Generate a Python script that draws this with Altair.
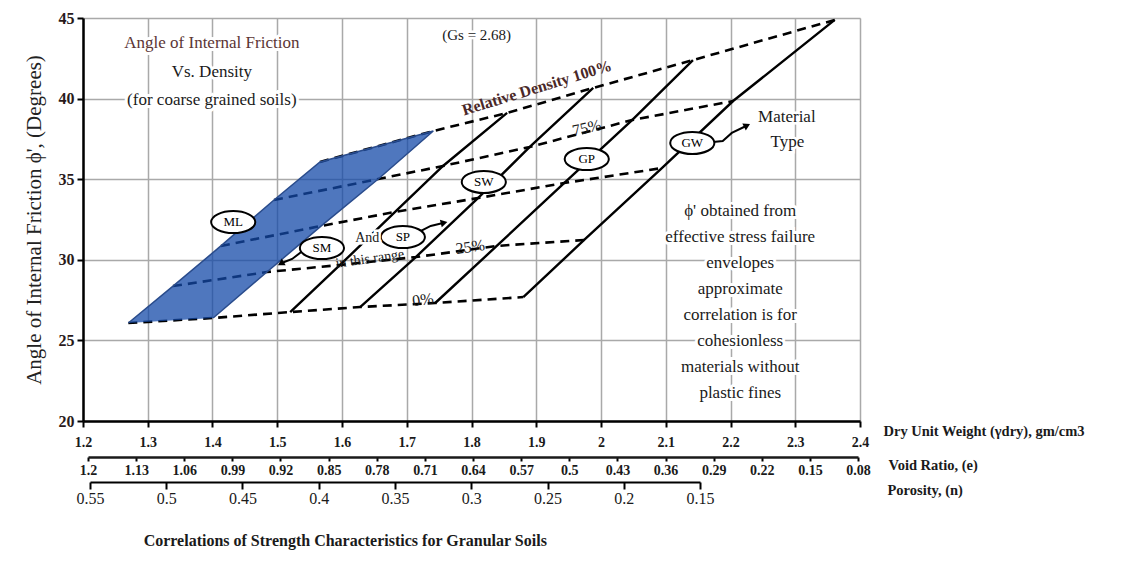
import altair as alt
import pandas as pd

# ---------------- data ----------------
boundaries = ["ML", "SM", "SP", "SW", "GP", "GW"]
rel_density = ["0%", "25%", "50%", "75%", "100%"]

# dry unit weight (gm/cm3) and friction angle (deg) at each material boundary
dry_0 = [1.270, 1.401, 1.520, 1.628, 1.744, 1.880]
phi_0 = [26.08, 26.39, 26.76, 27.07, 27.32, 27.69]
dry_25 = [1.339, 1.484, 1.597, 1.714, 1.839, 1.974]
phi_25 = [28.37, 29.24, 29.68, 30.17, 30.86, 31.23]
dry_50 = [1.413, 1.568, 1.682, 1.810, 1.943, 2.094]
phi_50 = [30.86, 32.10, 32.97, 33.83, 34.76, 35.69]
dry_75 = [1.495, 1.656, 1.756, 1.890, 2.048, 2.204]
phi_75 = [33.71, 35.01, 35.82, 37.00, 38.67, 39.85]
dry_100 = [1.566, 1.741, 1.855, 1.988, 2.142, 2.361]
phi_100 = [36.07, 37.99, 39.11, 40.66, 42.39, 44.88]

dry_ticks = [1.2, 1.3, 1.4, 1.5, 1.6, 1.7, 1.8, 1.9, 2.0, 2.1, 2.2, 2.3, 2.4]
phi_ticks = [20, 25, 30, 35, 40, 45]
void_ticks = [1.2, 1.13, 1.06, 0.99, 0.92, 0.85, 0.78, 0.71, 0.64, 0.57, 0.5,
              0.43, 0.36, 0.29, 0.22, 0.15, 0.08]
poro_ticks = [0.55, 0.5, 0.45, 0.4, 0.35, 0.3, 0.25, 0.2, 0.15]

# material-type labels (ellipses)
mat_names = ["ML", "SM", "SP", "SW", "GP", "GW"]
mat_dry = [1.432, 1.569, 1.694, 1.819, 1.978, 2.141]
mat_phi = [32.34, 30.73, 31.41, 34.83, 36.25, 37.25]

# arrows
arrow_id = ["SM", "SM", "SM", "SP", "SP", "SP", "GW", "GW", "GW", "GW"]
arrow_dry = [1.537, 1.523, 1.507, 1.722, 1.737, 1.756, 2.173, 2.188, 2.202, 2.224]
arrow_phi = [30.48, 30.05, 29.80, 31.79, 32.10, 32.28, 37.31, 37.37, 37.87, 38.30]
head_dry = [1.507, 1.756, 2.224]
head_phi = [29.80, 32.28, 38.30]
head_ang = [240, 76, 63]

# annotation texts
block_lines = ["Angle of Internal Friction", "Vs. Density", "(for coarse grained soils)"]
block_dry = [1.399, 1.399, 1.399]
block_phi = [43.45, 41.65, 39.91]
block_col = ["#5b3535", "#1a1a1a", "#1a1a1a"]

note_lines = ["\u03d5' obtained from", "effective stress failure", "envelopes", "approximate",
              "correlation is for", "cohesionless", "materials without", "plastic fines"]
note_phi = [33.03, 31.42, 29.80, 28.19, 26.58, 24.97, 23.35, 21.74]
note_dry = [2.215] * len(note_lines)

misc_text = ["(Gs = 2.68)", "Material", "Type", "And"]
misc_dry = [1.808, 2.287, 2.288, 1.639]
misc_phi = [43.95, 38.86, 37.31, 31.35]
misc_size = [15, 17, 17, 14]

rot_text = ["Relative Density 100%", "75%", "25%", "0%", "in this range"]
rot_dry = [1.901, 1.978, 1.798, 1.725, 1.643]
rot_phi = [40.66, 38.18, 30.79, 27.51, 30.05]
rot_ang = [343, 348, 352, 352, 352]
rot_size = [16, 16, 16, 16, 14]
rot_bold = ["bold", "normal", "normal", "normal", "normal"]
rot_col = ["#4a2828", "#1a1a1a", "#1a1a1a", "#1a1a1a", "#1a1a1a"]

chart_title = "Correlations of Strength Characteristics for Granular Soils"
title_dry, title_phi = 1.605, 12.56

# ---------------- tables ----------------
rows = []
for ri, (rd, xs_, ys_) in enumerate(zip(rel_density,
                                        [dry_0, dry_25, dry_50, dry_75, dry_100],
                                        [phi_0, phi_25, phi_50, phi_75, phi_100])):
    for bi, b in enumerate(boundaries):
        rows.append({"rd": rd, "ri": ri, "b": b, "bi": bi, "dry": xs_[bi], "phi": ys_[bi]})
grid_df = pd.DataFrame(rows)

poly_df = pd.concat([
    grid_df[grid_df.b == "ML"].assign(p=lambda d: d.ri),
    grid_df[grid_df.b == "SM"].assign(p=lambda d: 9 - d.ri),
])

FONT = "Liberation Serif"
W, H = 777, 403
xs = alt.Scale(domain=[1.2, 2.4], nice=False, zero=False)
ys = alt.Scale(domain=[20, 45], nice=False, zero=False)

x_axis = alt.Axis(values=dry_ticks, format=".2~f", grid=True, gridColor="#a9a9a9", gridWidth=1.5,
                  domainColor="black", domainWidth=2.5, tickColor="black", tickSize=6, tickWidth=2,
                  labelFont=FONT, labelFontWeight="bold", labelFontSize=14, labelColor="#1a1a1a",
                  labelPadding=8, labelFlush=False,
                  title="Dry Unit Weight (\u03b3dry), gm/cm3", titleFont=FONT, titleFontWeight="bold",
                  titleFontSize=14.5, titleColor="#1a1a1a", titleX=800, titleY=10, titleAlign="left",
                  titleBaseline="middle", titleAngle=0)
y_axis = alt.Axis(values=phi_ticks, grid=True, gridColor="#a9a9a9", gridWidth=1.5,
                  domainColor="black", domainWidth=2.5, tickColor="black", tickSize=6, tickWidth=2,
                  labelFont=FONT, labelFontWeight="bold", labelFontSize=16, labelColor="#2a1a1a",
                  labelPadding=3, labelFlush=False,
                  title="Angle of Internal Friction \u03d5', (Degrees)", titleFont=FONT,
                  titleFontWeight="normal", titleFontSize=21, titleColor="#222222", titlePadding=14)


def X(f="dry:Q"):
    return alt.X(f, scale=xs, axis=x_axis)


def Y(f="phi:Q"):
    return alt.Y(f, scale=ys, axis=y_axis)


dashed = alt.Chart(grid_df).mark_line(color="black", strokeWidth=2.6, strokeDash=[9, 6]).encode(
    x=X(), y=Y(), detail="rd:N", order="bi:Q")

solid = alt.Chart(grid_df[grid_df.bi >= 2]).mark_line(color="black", strokeWidth=2.4).encode(
    x=X(), y=Y(), detail="b:N", order="ri:Q")

blue = alt.Chart(poly_df).mark_line(fill="#1449a8", fillOpacity=0.75, stroke="#2a4c8c",
                                    strokeWidth=1.5).encode(x=X(), y=Y(), order="p:Q")

mat_df = pd.DataFrame({"name": mat_names, "dry": mat_dry, "phi": mat_phi})
ELL = "M-1,0 A1,0.5 0 1,0 1,0 A1,0.5 0 1,0 -1,0 Z"
ellipses = alt.Chart(mat_df).mark_point(shape=ELL, size=1950, filled=True, fill="white",
                                        stroke="black", strokeWidth=2, opacity=1).encode(x=X(), y=Y())
ell_text = alt.Chart(mat_df).mark_text(font=FONT, fontSize=13, color="black").encode(
    x=X(), y=Y(), text="name:N")

arr_df = pd.DataFrame({"id": arrow_id, "dry": arrow_dry, "phi": arrow_phi,
                       "k": list(range(len(arrow_id)))})
arrows = alt.Chart(arr_df).mark_line(color="black", strokeWidth=2).encode(
    x=X(), y=Y(), detail="id:N", order="k:Q")
head_df = pd.DataFrame({"dry": head_dry, "phi": head_phi, "a": head_ang})
heads = alt.Chart(head_df).mark_point(shape="triangle", filled=True, color="black", size=60,
                                      opacity=1).encode(
    x=X(), y=Y(), angle=alt.Angle("a:Q", scale=None))

block_df = pd.DataFrame({"t": block_lines, "dry": block_dry, "phi": block_phi, "c": block_col})
block_halo = alt.Chart(block_df).mark_text(font=FONT, fontSize=17, stroke="white", strokeWidth=6,
                                           color="white").encode(x=X(), y=Y(), text="t:N")
block_txt = alt.Chart(block_df).mark_text(font=FONT, fontSize=17).encode(
    x=X(), y=Y(), text="t:N", color=alt.Color("c:N", scale=None))

note_df = pd.DataFrame({"t": note_lines, "dry": note_dry, "phi": note_phi})
note_halo = alt.Chart(note_df).mark_text(font=FONT, fontSize=17, stroke="white", strokeWidth=6,
                                         color="white").encode(x=X(), y=Y(), text="t:N")
note_txt = alt.Chart(note_df).mark_text(font=FONT, fontSize=17, color="#1a1a1a").encode(
    x=X(), y=Y(), text="t:N")

misc_df = pd.DataFrame({"t": misc_text, "dry": misc_dry, "phi": misc_phi, "s": misc_size})
misc_halo = alt.Chart(misc_df).mark_text(font=FONT, stroke="white", strokeWidth=5,
                                         color="white").encode(
    x=X(), y=Y(), text="t:N", size=alt.Size("s:Q", scale=None))
misc_txt = alt.Chart(misc_df).mark_text(font=FONT, color="#1a1a1a").encode(
    x=X(), y=Y(), text="t:N", size=alt.Size("s:Q", scale=None))

rot_layers = []
for i in range(len(rot_text)):
    sub = pd.DataFrame({"t": [rot_text[i]], "dry": [rot_dry[i]], "phi": [rot_phi[i]]})
    rot_layers.append(alt.Chart(sub).mark_text(
        font=FONT, fontSize=rot_size[i], fontWeight=rot_bold[i], angle=rot_ang[i],
        color=rot_col[i]).encode(x=X(), y=Y(), text="t:N"))

title_df = pd.DataFrame({"t": [chart_title], "dry": [title_dry], "phi": [title_phi]})
title_txt = alt.Chart(title_df).mark_text(font=FONT, fontSize=16, fontWeight="bold",
                                          color="#1a1a1a").encode(x=X(), y=Y(), text="t:N")

main = alt.layer(dashed, solid, blue, arrows, heads, ellipses, ell_text,
                 block_halo, block_txt, note_halo, note_txt, misc_halo, misc_txt,
                 *rot_layers, title_txt)

void_layer = alt.Chart(pd.DataFrame({"e": void_ticks})).mark_point(opacity=0).encode(
    x=alt.X("e:Q", scale=alt.Scale(domain=[1.2, 0.08], range=[5, 775], nice=False, zero=False),
            axis=alt.Axis(orient="bottom", offset=36, values=void_ticks, format=".2~f",
                          domainColor="#1a1a1a", domainWidth=2.5, tickColor="black", tickSize=4,
                          tickWidth=2, labelFont=FONT, labelFontWeight="bold", labelFontSize=14,
                          labelColor="#1a1a1a", labelPadding=2, labelFlush=False,
                          title="Void Ratio, (e)", titleFont=FONT, titleFontWeight="bold",
                          titleFontSize=14.5, titleColor="#1a1a1a", titleX=805, titleY=8,
                          titleAlign="left", titleBaseline="middle", titleAngle=0)),
    y=alt.value(0))

poro_layer = alt.Chart(pd.DataFrame({"n": poro_ticks})).mark_point(opacity=0).encode(
    x=alt.X("n:Q", scale=alt.Scale(domain=[0.55, 0.15], range=[7, 617], nice=False, zero=False),
            axis=alt.Axis(orient="bottom", offset=61, values=poro_ticks, format=".2~f",
                          domainColor="black", domainWidth=2, tickColor="black", tickSize=7,
                          tickWidth=2, labelFont=FONT, labelFontWeight="normal", labelFontSize=16,
                          labelColor="#1a1a1a", labelPadding=1, labelFlush=False,
                          title="Porosity, (n)", titleFont=FONT, titleFontWeight="bold",
                          titleFontSize=14.5, titleColor="#1a1a1a", titleX=804, titleY=8,
                          titleAlign="left", titleBaseline="middle", titleAngle=0)),
    y=alt.value(0))

chart = alt.layer(main, void_layer, poro_layer).resolve_scale(x="independent").properties(
    width=W, height=H,
    autosize=alt.AutoSizeParams(type="none"),
    padding={"left": 75, "top": 10, "right": 270, "bottom": 151},
).configure_view(stroke="#1a1a1a", strokeWidth=2).configure(background="white")

chart.save("out.html", embed_options={"renderer": "svg", "actions": False})
